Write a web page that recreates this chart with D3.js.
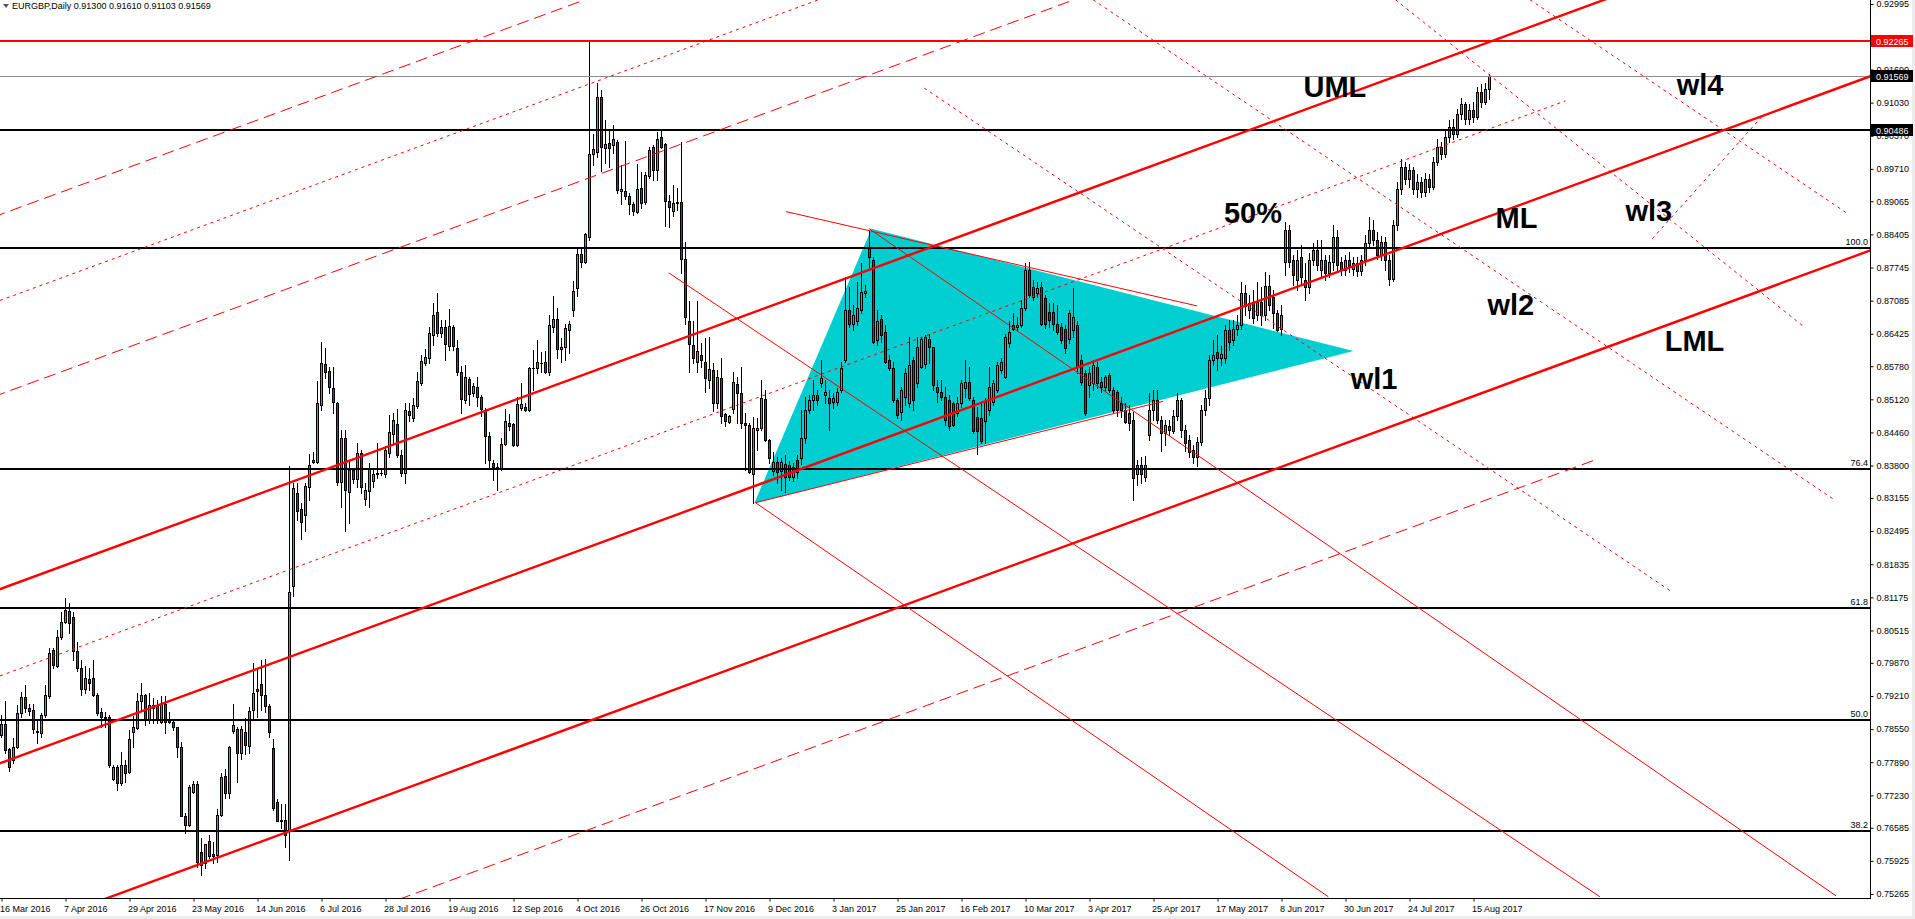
<!DOCTYPE html>
<html>
<head>
<meta charset="utf-8">
<script src="https://cdnjs.cloudflare.com/ajax/libs/d3/7.8.5/d3.min.js"></script>
<style>
body { margin: 0; background: #fff; overflow: hidden; }
text { font-family: "Liberation Sans", Arial, sans-serif; }
</style>
</head>
<body>
<script>
// EURGBP daily, 16 Mar 2016 .. 21 Aug 2017 (one entry per bar)
var opens = [
.7843,.7865,.7815,.7793,.7819,.7888,.7918,.7897,.7893,.7852,
.7847,.7883,.7920,.8013,.7981,.8038,.8069,.8090,.8078,.8011,
.7976,.7934,.7955,.7956,.7923,.7889,.7878,.7880,.7755,.7779,
.7747,.7784,.7770,.7850,.7857,.7910,.7923,.7873,.7903,.7901,
.7870,.7906,.7875,.7870,.7859,.7819,.7682,.7664,.7730,.7746,
.7611,.7589,.7632,.7606,.7604,.7684,.7762,.7727,.7852,.7855,
.7808,.7849,.7822,.7893,.7930,.7945,.7923,.7901,.7817,.7710,
.7673,.7673,.7654,.8140,.8326,.8293,.8282,.8337,.8388,.8388,
.8501,.8582,.8569,.8534,.8504,.8348,.8435,.8328,.8371,.8353,
.8406,.8313,.8330,.8350,.8364,.8366,.8364,.8406,.8443,.8463,
.8401,.8365,.8489,.8474,.8499,.8545,.8585,.8594,.8640,.8685,
.8644,.8656,.8618,.8656,.8614,.8566,.8511,.8552,.8524,.8536,
.8517,.8491,.8438,.8386,.8378,.8373,.8423,.8464,.8463,.8421,
.8494,.8497,.8491,.8574,.8574,.8584,.8586,.8567,.8657,.8671,
.8612,.8616,.8651,.8690,.8733,.8801,.8786,.8836,.9001,.9005,
.9114,.9012,.9022,.9019,.9024,.8926,.8926,.8918,.8901,.8886,
.8932,.8906,.8957,.9014,.8968,.9035,.9020,.8908,.8888,.8904,
.8906,.8791,.8667,.8620,.8587,.8600,.8587,.8551,.8570,.8504,
.8554,.8483,.8466,.8492,.8543,.8524,.8464,.8461,.8364,.8450,
.8454,.8512,.8430,.8370,.8388,.8370,.8384,.8381,.8358,.8391,
.8395,.8434,.8491,.8510,.8520,.8544,.8521,.8514,.8507,.8507,
.8530,.8590,.8690,.8663,.8667,.8690,.8723,.8816,.8789,.8630,
.8672,.8647,.8590,.8574,.8511,.8487,.8517,.8504,.8590,.8544,
.8577,.8583,.8633,.8617,.8537,.8527,.8517,.8510,.8504,.8484,
.8504,.8534,.8547,.8511,.8477,.8474,.8468,.8491,.8507,.8530,
.8570,.8557,.8624,.8660,.8657,.8660,.8693,.8770,.8736,.8723,
.8736,.8713,.8686,.8686,.8663,.8657,.8653,.8633,.8650,.8660,
.8590,.8564,.8541,.8544,.8577,.8547,.8537,.8560,.8530,.8527,
.8504,.8491,.8484,.8471,.8364,.8381,.8358,.8440,.8491,.8511,
.8471,.8444,.8458,.8448,.8478,.8511,.8451,.8431,.8411,.8398,
.8427,.8491,.8514,.8590,.8607,.8594,.8594,.8650,.8630,.8653,
.8660,.8723,.8690,.8703,.8680,.8706,.8680,.8737,.8715,.8683,
.8653,.8786,.8849,.8790,.8750,.8795,.8750,.8735,.8790,.8810,
.8770,.8790,.8763,.8786,.8835,.8785,.8770,.8790,.8772,.8784,
.8768,.8790,.8823,.8850,.8830,.8800,.8826,.8790,.8752,.8860,
.8930,.8975,.8950,.8968,.8930,.8945,.8925,.8950,.8935,.8985,
.9015,.9000,.9035,.9055,.9040,.9080,.9100,.9070,.9088,.9075,
.9125,.9105,.9130];
var highs = [
.7883,.7910,.7817,.7837,.7903,.7928,.7943,.7906,.7906,.7873,
.7887,.7943,.8016,.8016,.8053,.8089,.8116,.8106,.8089,.8029,
.7993,.7981,.7976,.7993,.7926,.7897,.7890,.7883,.7784,.7784,
.7810,.7794,.7853,.7881,.7926,.7946,.7925,.7926,.7916,.7913,
.7920,.7920,.7890,.7876,.7860,.7830,.7687,.7744,.7751,.7751,
.7638,.7627,.7644,.7631,.7695,.7768,.7775,.7822,.7905,.7860,
.7861,.7877,.7900,.7986,.7976,.7993,.7994,.7906,.7835,.7715,
.7706,.7706,.8379,.8345,.8345,.8305,.8345,.8404,.8408,.8548,
.8627,.8614,.8577,.8577,.8507,.8451,.8451,.8391,.8375,.8425,
.8411,.8345,.8385,.8371,.8425,.8372,.8418,.8480,.8484,.8492,
.8411,.8504,.8504,.8514,.8567,.8600,.8612,.8657,.8703,.8723,
.8670,.8670,.8691,.8660,.8630,.8579,.8581,.8557,.8544,.8556,
.8521,.8494,.8446,.8391,.8385,.8435,.8492,.8483,.8464,.8517,
.8544,.8504,.8577,.8610,.8630,.8607,.8609,.8680,.8717,.8693,
.8634,.8663,.8667,.8747,.8813,.8813,.8843,.9228,.9041,.9143,
.9128,.9069,.9049,.9058,.9029,.8979,.9027,.8922,.8906,.8981,
.8965,.8964,.9014,.9019,.9045,.9050,.9022,.8919,.8939,.8932,
.9025,.8826,.8707,.8667,.8707,.8625,.8634,.8637,.8584,.8570,
.8594,.8484,.8481,.8567,.8557,.8577,.8484,.8464,.8477,.8474,
.8550,.8531,.8432,.8408,.8397,.8395,.8401,.8390,.8385,.8401,
.8491,.8517,.8520,.8550,.8530,.8590,.8550,.8530,.8525,.8535,
.8587,.8756,.8736,.8700,.8746,.8783,.8740,.8849,.8796,.8690,
.8680,.8660,.8600,.8587,.8514,.8537,.8574,.8637,.8597,.8637,
.8637,.8640,.8643,.8617,.8550,.8550,.8537,.8520,.8507,.8517,
.8550,.8590,.8577,.8517,.8497,.8504,.8514,.8577,.8550,.8587,
.8595,.8643,.8667,.8683,.8675,.8710,.8783,.8786,.8750,.8746,
.8746,.8720,.8703,.8703,.8700,.8665,.8660,.8690,.8733,.8667,
.8600,.8570,.8577,.8590,.8587,.8557,.8560,.8564,.8537,.8530,
.8517,.8504,.8500,.8487,.8391,.8398,.8400,.8524,.8530,.8530,
.8478,.8470,.8470,.8490,.8524,.8514,.8460,.8440,.8420,.8437,
.8500,.8530,.8600,.8630,.8640,.8618,.8660,.8670,.8670,.8680,
.8745,.8740,.8720,.8730,.8745,.8736,.8765,.8760,.8730,.8690,
.8700,.8866,.8860,.8800,.8810,.8820,.8783,.8803,.8823,.8830,
.8830,.8800,.8800,.8860,.8850,.8795,.8800,.8805,.8795,.8796,
.8800,.8840,.8875,.8870,.8845,.8838,.8835,.8800,.8870,.8945,
.8990,.8985,.8980,.8975,.8960,.8955,.8962,.8960,.8995,.9030,
.9025,.9048,.9068,.9070,.9090,.9112,.9105,.9100,.9105,.9135,
.9140,.9142,.9161];
var lows = [
.7840,.7807,.7772,.7788,.7817,.7880,.7890,.7883,.7847,.7828,
.7840,.7880,.7916,.7976,.7978,.8034,.8066,.8046,.7993,.7970,
.7923,.7926,.7933,.7920,.7883,.7860,.7860,.7780,.7754,.7733,
.7744,.7750,.7767,.7820,.7855,.7893,.7863,.7867,.7867,.7867,
.7867,.7847,.7867,.7853,.7800,.7681,.7648,.7662,.7727,.7581,
.7564,.7578,.7598,.7588,.7591,.7681,.7717,.7717,.7847,.7750,
.7795,.7805,.7807,.7877,.7880,.7893,.7890,.7840,.7694,.7671,
.7657,.7621,.7595,.8120,.8272,.8233,.8249,.8312,.8386,.8385,
.8491,.8554,.8524,.8484,.8341,.8298,.8249,.8265,.8345,.8338,
.8325,.8302,.8298,.8338,.8355,.8362,.8358,.8398,.8424,.8398,
.8359,.8345,.8468,.8468,.8494,.8541,.8581,.8584,.8620,.8638,
.8637,.8590,.8610,.8610,.8561,.8484,.8504,.8501,.8519,.8498,
.8478,.8386,.8373,.8352,.8332,.8371,.8421,.8451,.8418,.8418,
.8491,.8488,.8488,.8531,.8564,.8567,.8564,.8560,.8647,.8594,
.8587,.8590,.8604,.8677,.8717,.8776,.8784,.8830,.8979,.8995,
.8966,.8982,.8975,.9002,.8922,.8901,.8912,.8882,.8879,.8884,
.8893,.8902,.8952,.8949,.8949,.9012,.8857,.8856,.8877,.8889,
.8763,.8663,.8567,.8584,.8567,.8577,.8527,.8534,.8488,.8494,
.8464,.8458,.8464,.8484,.8464,.8454,.8371,.8365,.8305,.8411,
.8451,.8428,.8385,.8361,.8345,.8331,.8328,.8352,.8350,.8355,
.8384,.8424,.8485,.8491,.8500,.8537,.8504,.8451,.8495,.8500,
.8527,.8587,.8657,.8650,.8660,.8683,.8715,.8776,.8624,.8620,
.8627,.8584,.8570,.8507,.8474,.8471,.8501,.8497,.8491,.8537,
.8574,.8575,.8584,.8531,.8507,.8510,.8461,.8450,.8458,.8478,
.8497,.8517,.8511,.8444,.8404,.8424,.8424,.8481,.8500,.8527,
.8565,.8554,.8617,.8650,.8650,.8657,.8690,.8716,.8710,.8716,
.8660,.8655,.8657,.8650,.8643,.8624,.8604,.8624,.8637,.8564,
.8540,.8481,.8517,.8530,.8534,.8527,.8530,.8527,.8487,.8478,
.8477,.8464,.8451,.8312,.8341,.8345,.8350,.8430,.8470,.8465,
.8410,.8420,.8440,.8444,.8470,.8437,.8410,.8398,.8385,.8380,
.8420,.8480,.8500,.8580,.8570,.8580,.8584,.8610,.8620,.8640,
.8653,.8680,.8673,.8665,.8670,.8660,.8670,.8690,.8655,.8648,
.8640,.8760,.8776,.8740,.8730,.8740,.8710,.8723,.8780,.8770,
.8756,.8750,.8755,.8770,.8770,.8760,.8760,.8765,.8760,.8758,
.8760,.8780,.8815,.8820,.8792,.8790,.8770,.8740,.8748,.8850,
.8920,.8940,.8935,.8920,.8915,.8915,.8918,.8925,.8930,.8978,
.8990,.8995,.9025,.9030,.9035,.9070,.9060,.9060,.9065,.9070,
.9095,.9100,.9110];
var closes = [
.7865,.7813,.7780,.7819,.7887,.7918,.7897,.7892,.7855,.7850,
.7883,.7923,.8006,.7983,.8038,.8069,.8092,.8067,.8011,.7976,
.7934,.7956,.7946,.7922,.7887,.7880,.7880,.7784,.7780,.7747,
.7784,.7768,.7835,.7860,.7911,.7923,.7873,.7903,.7897,.7873,
.7906,.7870,.7870,.7859,.7820,.7682,.7664,.7739,.7746,.7591,
.7584,.7627,.7602,.7602,.7683,.7760,.7727,.7820,.7863,.7808,
.7855,.7824,.7891,.7926,.7935,.7923,.7901,.7850,.7697,.7671,
.7671,.7644,.8129,.8335,.8290,.8268,.8339,.8381,.8392,.8504,
.8584,.8567,.8536,.8506,.8348,.8435,.8332,.8371,.8353,.8406,
.8337,.8332,.8375,.8364,.8366,.8365,.8411,.8446,.8470,.8401,
.8366,.8491,.8480,.8501,.8549,.8588,.8596,.8645,.8680,.8644,
.8657,.8622,.8659,.8618,.8566,.8512,.8556,.8523,.8539,.8516,
.8492,.8438,.8391,.8378,.8373,.8423,.8468,.8458,.8421,.8502,
.8503,.8491,.8574,.8574,.8586,.8584,.8567,.8660,.8671,.8612,
.8616,.8655,.8663,.8728,.8801,.8786,.8841,.9001,.9011,.9114,
.9014,.9021,.9012,.9030,.8928,.8930,.8917,.8902,.8888,.8930,
.8904,.8959,.9009,.8968,.9030,.9015,.8908,.8896,.8904,.8905,
.8792,.8675,.8623,.8594,.8609,.8590,.8554,.8572,.8505,.8557,
.8478,.8468,.8478,.8547,.8524,.8464,.8460,.8368,.8454,.8454,
.8514,.8431,.8395,.8388,.8367,.8387,.8358,.8358,.8378,.8368,
.8434,.8491,.8511,.8520,.8510,.8554,.8527,.8504,.8514,.8527,
.8574,.8690,.8663,.8680,.8693,.8726,.8727,.8796,.8627,.8667,
.8640,.8587,.8574,.8511,.8481,.8530,.8564,.8580,.8511,.8617,
.8633,.8637,.8617,.8541,.8527,.8517,.8471,.8458,.8461,.8504,
.8544,.8547,.8514,.8448,.8448,.8428,.8507,.8537,.8544,.8580,
.8587,.8637,.8647,.8653,.8660,.8693,.8770,.8720,.8716,.8733,
.8663,.8663,.8670,.8663,.8647,.8630,.8614,.8683,.8676,.8577,
.8547,.8484,.8564,.8580,.8544,.8537,.8557,.8530,.8491,.8491,
.8491,.8467,.8464,.8355,.8381,.8364,.8381,.8491,.8511,.8471,
.8444,.8460,.8451,.8478,.8511,.8451,.8424,.8407,.8398,.8427,
.8491,.8514,.8590,.8600,.8594,.8603,.8650,.8627,.8653,.8660,
.8723,.8697,.8703,.8673,.8706,.8680,.8737,.8700,.8683,.8650,
.8680,.8849,.8786,.8760,.8790,.8756,.8735,.8790,.8810,.8780,
.8790,.8763,.8786,.8835,.8780,.8770,.8790,.8778,.8784,.8768,
.8790,.8823,.8850,.8830,.8800,.8826,.8790,.8752,.8860,.8930,
.8975,.8950,.8968,.8930,.8945,.8925,.8950,.8935,.8985,.9015,
.9000,.9035,.9055,.9040,.9080,.9100,.9070,.9088,.9075,.9125,
.9105,.9130,.9157];

// time axis labels, one every 16 bars
var dateLabels = ['16 Mar 2016','7 Apr 2016','29 Apr 2016','23 May 2016','14 Jun 2016','6 Jul 2016',
    '28 Jul 2016','19 Aug 2016','12 Sep 2016','4 Oct 2016','26 Oct 2016','17 Nov 2016','9 Dec 2016',
    '3 Jan 2017','25 Jan 2017','16 Feb 2017','10 Mar 2017','3 Apr 2017','25 Apr 2017','17 May 2017',
    '8 Jun 2017','30 Jun 2017','24 Jul 2017','15 Aug 2017'];
var labelStep = 16;

// price axis labels (the one under the red box is not shown)
var priceTicks = [0.92995,0.91690,0.91030,0.90370,0.89710,0.89065,0.88405,0.87745,0.87085,
    0.86425,0.85780,0.85120,0.84460,0.83800,0.83155,0.82495,0.81835,0.81175,0.80515,0.79870,
    0.79210,0.78550,0.77890,0.77230,0.76585,0.75925,0.75265];
var boxPrices = [0.92265, 0.91569, 0.90486];

// fibonacci retracement levels
var fibNames = ['100.0','76.4','61.8','50.0','38.2'];
var fibPrices = [0.8814, 0.8373, 0.8096, 0.7873, 0.7652];

// pitchfork: median line anchors (bar, price) and offsets of the parallels
var medianLine = [[0, 0.7788], [467, 0.9155]];
var forkOffsets = [0.1093, 0.0922, 0.0735, 0.0347, 0.0174, 0, -0.0347, -0.0563];
var forkEnds = [470, 470, 470, 470, 391, 470, 470, 398];
var forkKinds = ['dash','dot','dash','thick','dot','thick','thick','dash'];

// trendlines (bar, price)
var trendLines = [
    [[166.8, 0.8764], [399.6, 0.7521]],
    [[216.9, 0.8852], [458.6, 0.7523]],
    [[188.5, 0.8306], [331.7, 0.7521]],
    [[196.1, 0.8886], [298.9, 0.8698]],
    [[188.5, 0.8306], [290.4, 0.8508]]
];
var warnLines = [
    [[230.7, 0.9132], [417.3, 0.8130]],
    [[272.9, 0.9308], [458.0, 0.8313]],
    [[348.5, 0.9308], [451.0, 0.8654]],
    [[382.1, 0.9308], [461.7, 0.8881]],
    [[412.7, 0.8832], [440.2, 0.9076]]
];
var triangle = [[217.5, 0.8852], [188.2, 0.8305], [338, 0.8608]];

var noteText = ['UML','50%','ML','wl4','wl3','wl2','LML','wl1'];
var noteBar = [325.5, 305.6, 373.5, 418.8, 406, 371.5, 415.8, 337.3];
var notePrice = [0.9114, 0.8864, 0.8853, 0.9118, 0.8867, 0.8680, 0.8608, 0.8533];

var W = 1915, H = 919;
var plotW = 1870, plotH = 898;
var N = Math.min(opens.length, highs.length, lows.length, closes.length);

var x = d3.scaleLinear().domain([0, 467]).range([1.5, 1869.5]);
var y = d3.scaleLinear().domain([0.75265, 0.92995]).range([894, 4]);

var svg = d3.select('body').append('svg')
    .attr('width', W)
    .attr('height', H);

svg.append('rect').attr('width', W).attr('height', H).attr('fill', '#fff');
// thin grey frame of the window
svg.append('rect').attr('x', 0).attr('y', 916).attr('width', W).attr('height', 3).attr('fill', '#ececec');
svg.append('rect').attr('x', 1912).attr('y', 0).attr('width', 3).attr('height', H).attr('fill', '#ececec');

svg.append('defs').append('clipPath').attr('id', 'plot')
    .append('rect').attr('width', plotW).attr('height', plotH);

var plot = svg.append('g').attr('clip-path', 'url(#plot)');

var line = d3.line()
    .x(function (d) { return x(d[0]); })
    .y(function (d) { return y(d[1]); });

// triangle sits behind the bars
plot.append('path')
    .attr('d', line(triangle) + 'Z')
    .attr('fill', '#00ced1');

// candles
var bars = plot.append('g').selectAll('g')
    .data(d3.range(N))
    .enter()
    .append('g');

function bodyTop(i) { return Math.round(y(Math.max(opens[i], closes[i]))); }
function bodyBot(i) { return Math.round(y(Math.min(opens[i], closes[i]))); }

bars.append('rect') // wick
    .attr('x', function (i) { return x(i) - 0.5; })
    .attr('width', 1)
    .attr('y', function (i) { return Math.round(y(highs[i])); })
    .attr('height', function (i) { return Math.max(1, Math.round(y(lows[i])) - Math.round(y(highs[i])) + 1); })
    .attr('fill', '#000');

bars.append('rect') // body outline
    .attr('x', function (i) { return x(i) - 1.5; })
    .attr('width', 3)
    .attr('y', bodyTop)
    .attr('height', function (i) { return Math.max(1, bodyBot(i) - bodyTop(i) + 1); })
    .attr('fill', '#000');

bars.filter(function (i) { return bodyBot(i) - bodyTop(i) >= 2; })
    .append('rect') // body fill
    .attr('x', function (i) { return x(i) - 0.5; })
    .attr('width', 1)
    .attr('y', function (i) { return bodyTop(i) + 1; })
    .attr('height', function (i) { return bodyBot(i) - bodyTop(i) - 1; })
    .attr('fill', function (i) { return closes[i] >= opens[i] ? '#2fbf2f' : '#ef0000'; });

// horizontal levels
var lv = plot.append('g').attr('shape-rendering', 'crispEdges');
lv.selectAll('line.fib')
    .data(fibPrices)
    .enter()
    .append('line')
    .attr('x1', 0).attr('x2', plotW)
    .attr('y1', function (d) { return Math.round(y(d)); })
    .attr('y2', function (d) { return Math.round(y(d)); })
    .attr('stroke', '#000').attr('stroke-width', 2);
lv.append('line')
    .attr('x1', 0).attr('x2', plotW)
    .attr('y1', Math.round(y(boxPrices[2]))).attr('y2', Math.round(y(boxPrices[2])))
    .attr('stroke', '#000').attr('stroke-width', 2);
lv.append('line')
    .attr('x1', 0).attr('x2', plotW)
    .attr('y1', Math.round(y(boxPrices[0]))).attr('y2', Math.round(y(boxPrices[0])))
    .attr('stroke', '#ff0000').attr('stroke-width', 2);
lv.append('line')
    .attr('x1', 0).attr('x2', plotW)
    .attr('y1', Math.round(y(boxPrices[1])) + 0.5).attr('y2', Math.round(y(boxPrices[1])) + 0.5)
    .attr('stroke', '#8c8c8c').attr('stroke-width', 1);

svg.selectAll('text.fib')
    .data(fibNames)
    .enter()
    .append('text')
    .attr('x', plotW - 2)
    .attr('y', function (d, i) { return Math.round(y(fibPrices[i])) - 3; })
    .attr('text-anchor', 'end')
    .attr('font-size', 9)
    .text(function (d) { return d; });

// pitchfork and its parallels
var slope = (medianLine[1][1] - medianLine[0][1]) / (medianLine[1][0] - medianLine[0][0]);
function ml(i) { return medianLine[0][1] + (i - medianLine[0][0]) * slope; }

var fork = plot.append('g');
forkOffsets.forEach(function (off, k) {
    var a = -2, b = forkEnds[k];
    var p = fork.append('path')
        .attr('d', line([[a, ml(a) + off], [b, ml(b) + off]]))
        .attr('fill', 'none')
        .attr('stroke', '#ff0000');
    if (forkKinds[k] === 'thick') p.attr('stroke-width', 2.4);
    else p.attr('stroke-width', 1).attr('stroke-dasharray', forkKinds[k] === 'dash' ? '12,6' : '3,4');
});

plot.append('g').selectAll('path')
    .data(trendLines)
    .enter()
    .append('path')
    .attr('d', line)
    .attr('fill', 'none')
    .attr('stroke', '#ff0000')
    .attr('stroke-width', 1);

plot.append('g').selectAll('path')
    .data(warnLines)
    .enter()
    .append('path')
    .attr('d', line)
    .attr('fill', 'none')
    .attr('stroke', '#ff0000')
    .attr('stroke-width', 1)
    .attr('stroke-dasharray', '3,4');

// text labels on the chart
svg.append('g').selectAll('text')
    .data(noteText)
    .enter()
    .append('text')
    .attr('x', function (d, i) { return x(noteBar[i]); })
    .attr('y', function (d, i) { return y(notePrice[i]); })
    .attr('font-size', 29)
    .attr('font-weight', 'bold')
    .attr('fill', '#000')
    .text(function (d) { return d; });

// price axis
var yAxis = d3.axisRight(y)
    .tickValues(priceTicks)
    .tickSize(3)
    .tickPadding(3)
    .tickFormat(d3.format('.5f'));
var ya = svg.append('g')
    .attr('transform', 'translate(' + (plotW + 0.5) + ',0)')
    .call(yAxis);
ya.select('.domain').remove();
ya.selectAll('text').attr('font-size', 9).attr('fill', '#000').attr('font-family', '"Liberation Sans", Arial, sans-serif');
ya.selectAll('line').attr('stroke', '#000');

var boxColors = ['#ff0000', '#000', '#000'];
var boxes = svg.append('g').selectAll('g')
    .data(boxPrices)
    .enter()
    .append('g')
    .attr('transform', function (d) { return 'translate(' + (plotW + 1) + ',' + Math.round(y(d)) + ')'; });
boxes.append('rect')
    .attr('x', 0).attr('y', -6).attr('width', 42).attr('height', 12)
    .attr('fill', function (d, i) { return boxColors[i]; });
boxes.append('text')
    .attr('x', 5).attr('y', 3.5)
    .attr('font-size', 9)
    .attr('fill', '#fff')
    .text(function (d) { return d3.format('.5f')(d); });

// time axis
var xAxis = d3.axisBottom(x)
    .tickValues(dateLabels.map(function (d, i) { return i * labelStep; }))
    .tickSize(3)
    .tickPadding(4)
    .tickFormat(function (d, i) { return dateLabels[i]; });
var xa = svg.append('g')
    .attr('transform', 'translate(0,' + (plotH + 0.5) + ')')
    .call(xAxis);
xa.select('.domain').remove();
xa.selectAll('text').attr('font-size', 9).attr('fill', '#000').attr('text-anchor', 'start')
    .attr('dx', -2).attr('font-family', '"Liberation Sans", Arial, sans-serif');
xa.selectAll('line').attr('stroke', '#000');

// frame lines
svg.append('line').attr('x1', 0).attr('x2', plotW + 1).attr('y1', plotH + 0.5).attr('y2', plotH + 0.5)
    .attr('stroke', '#000');
svg.append('line').attr('x1', plotW + 0.5).attr('x2', plotW + 0.5).attr('y1', 0).attr('y2', plotH + 1)
    .attr('stroke', '#000');

// header
svg.append('path').attr('d', 'M3,4 L9,4 L6,8 Z').attr('fill', '#555');
svg.append('text')
    .attr('x', 12).attr('y', 9)
    .attr('font-size', 9)
    .attr('fill', '#000')
    .text('EURGBP,Daily  0.91300 0.91610 0.91103 0.91569');
</script>
</body>
</html>
